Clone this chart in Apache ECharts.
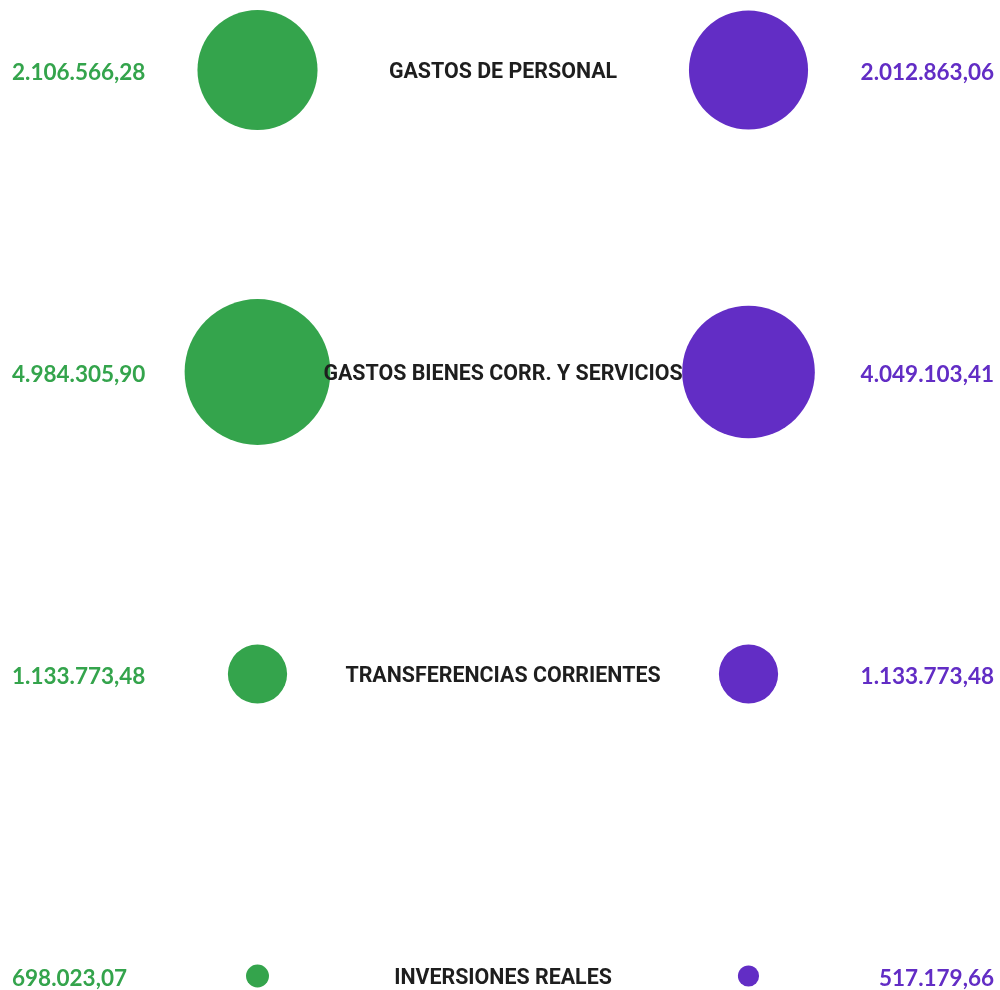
<!DOCTYPE html>
<html>
<head>
    <meta charset="utf-8">
    <title>Gastos</title>
    <script src="https://cdn.jsdelivr.net/npm/echarts@6/dist/echarts.min.js"></script>
</head>
<body style="margin:0;background:#fff">
    <div id="main" style="width:1000px;height:990px;"></div>
    <script type="text/javascript">
        // datos
        var categories = ['GASTOS DE PERSONAL', 'GASTOS BIENES CORR. Y SERVICIOS', 'TRANSFERENCIAS CORRIENTES', 'INVERSIONES REALES'];
        var leftValues = [2106566.28, 4984305.90, 1133773.48, 698023.07];
        var rightValues = [2012863.06, 4049103.41, 1133773.48, 517179.66];

        var green = '#34a44c';
        var purple = '#622dc5';

        // formato 1.234.567,89
        function fmt(v) {
            var parts = v.toFixed(2).split('.');
            var ent = parts[0].replace(/\B(?=(\d{3})+(?!\d))/g, '.');
            return ent + ',' + parts[1];
        }

        // escala del tamaño de los círculos (tramos)
        var sizeStops = [[0, 0], [500000, 21], [700000, 23], [1000000, 50], [2000000, 119], [2200000, 121], [4000000, 132], [5000000, 146]];
        function sizeScale(v) {
            for (var i = 1; i < sizeStops.length; i++) {
                if (v <= sizeStops[i][0]) {
                    var a = sizeStops[i - 1], b = sizeStops[i];
                    return a[1] + (b[1] - a[1]) * (v - a[0]) / (b[0] - a[0]);
                }
            }
            return sizeStops[sizeStops.length - 1][1];
        }

        var myChart = echarts.init(document.getElementById('main'));

        var yBase = {
            type: 'category',
            inverse: true,
            boundaryGap: false,
            data: categories,
            axisLine: { show: false },
            axisTick: { show: false },
            splitLine: { show: false }
        };

        var labelFont = { fontFamily: 'Lato', fontWeight: 'bold', fontSize: 22.5, lineHeight: 5, verticalAlign: 'top' };

        var option = {
            animation: false,
            grid: { left: 12, right: 6, top: 70, bottom: 13 },
            xAxis: { type: 'value', min: 0, max: 2, show: false },
            yAxis: [
                Object.assign({}, yBase, {
                    position: 'left',
                    axisLabel: Object.assign({
                        interval: 0, margin: 0, align: 'left', color: green,
                        formatter: function (val, idx) { return fmt(leftValues[idx]); }
                    }, labelFont)
                }),
                Object.assign({}, yBase, {
                    position: 'right',
                    axisLabel: Object.assign({
                        interval: 0, margin: 0, align: 'right', color: purple,
                        formatter: function (val, idx) { return fmt(rightValues[idx]); }
                    }, labelFont)
                })
            ],
            series: [{
                type: 'scatter',
                data: leftValues.map(function (v, i) { return [0.5, i, v]; }),
                symbolSize: function (d) { return sizeScale(d[2]); },
                itemStyle: { color: green, opacity: 1 },
                z: 2
            }, {
                type: 'scatter',
                data: rightValues.map(function (v, i) { return [1.5, i, v]; }),
                symbolSize: function (d) { return sizeScale(d[2]); },
                itemStyle: { color: purple, opacity: 1 },
                z: 2
            }, {
                type: 'scatter',
                data: categories.map(function (c, i) { return [1, i]; }),
                symbolSize: 1,
                itemStyle: { color: 'rgba(0,0,0,0)', opacity: 1 },
                label: {
                    show: true,
                    position: 'inside',
                    offset: [0, 3],
                    formatter: function (p) { return categories[p.dataIndex]; },
                    color: '#1e1e1e',
                    opacity: 1,
                    fontFamily: 'Roboto',
                    fontWeight: 'bold',
                    fontSize: 21.4
                },
                z: 5
            }]
        };

        myChart.setOption(option);
    </script>
</body>
</html>
